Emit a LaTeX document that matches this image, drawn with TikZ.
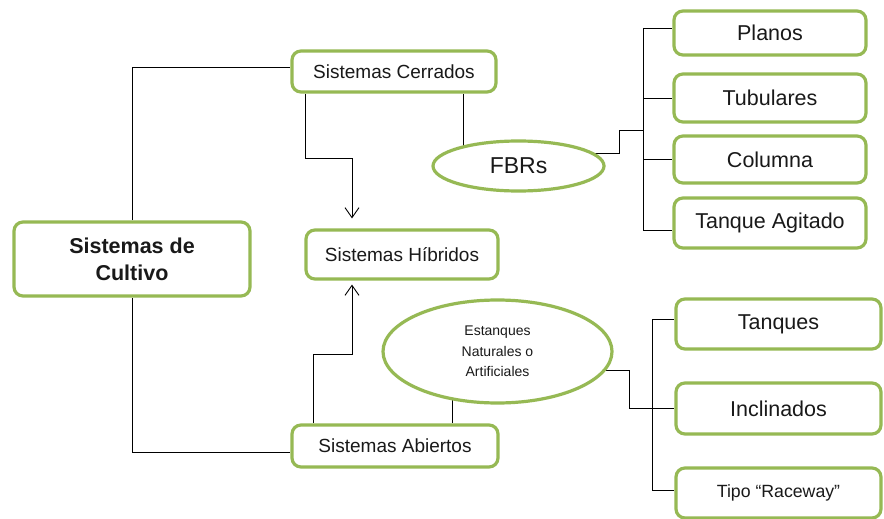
\documentclass[tikz,border=0pt]{standalone}
\usepackage{fontspec}
\setmainfont{Liberation Sans}
\usetikzlibrary{arrows.meta,shapes.geometric,calc}
\definecolor{grn}{RGB}{150,185,84}
\definecolor{txt}{RGB}{25,25,25}
\pgfdeclarelayer{bg}
\pgfsetlayers{bg,main}
\tikzset{
  x=1pt,y=-1pt,
  box/.style={draw=grn, line width=3.2pt, rounded corners=9pt, fill=white, inner sep=0pt, align=center, text=txt},
  oval/.style={draw=grn, line width=3.2pt, ellipse, fill=white, inner sep=0pt, align=center, text=txt},
  conn/.style={draw=black, line width=0.9pt},
  arr/.style={conn, -{Straight Barb[length=10pt,width=14pt,line width=0.9pt]}},
  fmid/.style={font=\fontsize{19}{22}\selectfont},
  fright/.style={font=\fontsize{21.5}{24}\selectfont},
}
\begin{document}
\begin{tikzpicture}
\clip (0,0) rectangle (884,519);

\node[box, minimum width=236pt, minimum height=74pt, font=\bfseries\fontsize{21.5}{27}\selectfont] (cult) at (132,259) {Sistemas de\\Cultivo};
\node[box, fmid, minimum width=204pt, minimum height=41pt] (cerr) at (394,71.5) {Sistemas Cerrados};
\node[box, fmid, minimum width=192pt, minimum height=49pt] (hib) at (402,254.5) {Sistemas Híbridos};
\node[box, fmid, minimum width=206pt, minimum height=42pt] (abi) at (395,446) {Sistemas Abiertos};

\node[oval, minimum width=171pt, minimum height=50pt, font=\fontsize{23}{25}\selectfont] (fbr) at (518.5,166) {FBRs};
\node[oval, minimum width=229pt, minimum height=103pt, font=\fontsize{14}{20.5}\selectfont] (est) at (497.5,351.5) {Estanques\\Naturales o\\Artificiales};

\node[box, fright, minimum width=192pt, minimum height=44pt] (plan) at (770,33) {Planos};
\node[box, fright, minimum width=192pt, minimum height=48pt] (tub) at (770,98) {Tubulares};
\node[box, fright, minimum width=192pt, minimum height=47pt] (col) at (770,159.5) {Columna};
\node[box, fright, minimum width=192pt, minimum height=50pt] (tag) at (770,223) {Tanque Agitado};

\node[box, fright, minimum width=205pt, minimum height=50pt] (tanq) at (778.5,324) {Tanques};
\node[box, fright, minimum width=205pt, minimum height=51pt] (incl) at (778.5,408.5) {Inclinados};
\node[box, minimum width=205pt, minimum height=50pt, font=\fontsize{17.7}{20}\selectfont] (race) at (778.5,493) {Tipo “Raceway”};

\coordinate (fj) at (619,130);
\coordinate (ftx) at (643,0);
\coordinate (ej) at (629,0);
\coordinate (etx) at (652,0);

\begin{pgfonlayer}{bg}
  \fill[white] (0,0) rectangle (884,519);
  \draw[conn] (cult.north) |- ([yshift=4.5pt]cerr.west);
  \draw[conn] (cult.south) |- ([yshift=-6pt]abi.west);
  \draw[arr, shorten >=10pt] ([xshift=-89pt]cerr.south) -- ++(0,65) -| ([xshift=-50pt]hib.north);
  \draw[arr, shorten >=4pt] ([xshift=-82pt]abi.north) -- ++(0,-69) -| ([xshift=-50pt]hib.south);
  \draw[conn] ([xshift=69pt]cerr.south) -- ([xshift=69pt]cerr.south |- fbr.center);
  \draw[conn] ([xshift=57pt]abi.north) -- ([xshift=57pt]abi.north |- est.center);
  % FBR tree
  \draw[conn] ([yshift=13pt]fbr.center) -| (fj) -- (fj -| ftx);
  \draw[conn] ([yshift=5pt]ftx |- plan.west) -- ([yshift=5pt]plan.west);
  \draw[conn] ([yshift=5pt]ftx |- plan.west) -- ([yshift=-7pt]ftx |- tag.west) -- ([yshift=-7pt]tag.west);
  \draw[conn] (ftx |- tub.west) -- (tub.west);
  \draw[conn] (ftx |- col.west) -- (col.west);
  % Estanques tree
  \draw[conn] ([yshift=-18.5pt]est.center) -| (ej |- incl.west) -- (incl.west);
  \draw[conn] ([yshift=5pt]etx |- tanq.west) -- ([yshift=5pt]tanq.west);
  \draw[conn] ([yshift=5pt]etx |- tanq.west) -- ([yshift=3pt]etx |- race.west) -- ([yshift=3pt]race.west);
\end{pgfonlayer}
\end{tikzpicture}
\end{document}
